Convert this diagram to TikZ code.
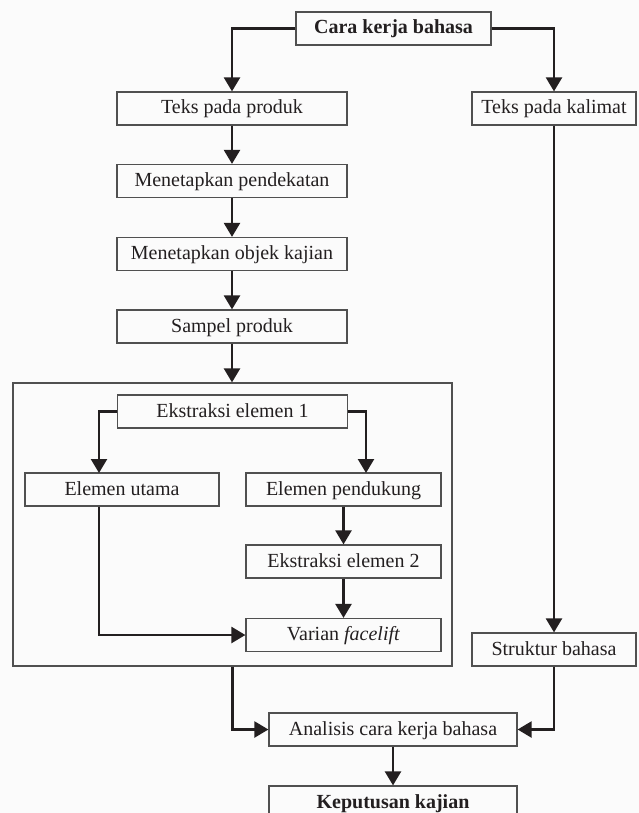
\documentclass[tikz,border=0pt]{standalone}
\usepackage{fontspec}
\setmainfont{Liberation Serif}
\usetikzlibrary{arrows.meta}
\definecolor{boxc}{HTML}{505050}
\definecolor{arrc}{HTML}{231F20}
\definecolor{bgc}{HTML}{FBFBFB}
\begin{document}
\begin{tikzpicture}[x=1pt,y=-1pt,
  box/.style={draw=boxc,line width=1.2pt,inner sep=0pt,minimum height=33pt,
    text height=15pt,text depth=4pt,font=\fontsize{20}{24}\selectfont,text=arrc},
  arr/.style={draw=arrc,line width=2.3pt,-{Triangle[width=16pt,length=14pt]}},
  ln/.style={draw=arrc,line width=2.3pt}]
\fill[bgc] (0,0) rectangle (639,813);
\useasboundingbox (0,0) rectangle (639,813);
\node[box,minimum width=195pt,font=\fontsize{20}{24}\selectfont\bfseries] (top) at (393.5,28.5) {Cara kerja bahasa};
\node[box,minimum width=230pt] (tp) at (232,108.5) {Teks pada produk};
\node[box,minimum width=164pt] (tk) at (554,108.5) {Teks pada kalimat};
\node[box,minimum width=230pt] (mp) at (232,181) {Menetapkan pendekatan};
\node[box,minimum width=230pt] (mo) at (232,254) {Menetapkan objek kajian};
\node[box,minimum width=230pt] (sp) at (232,326.5) {Sampel produk};
\node[draw=boxc,line width=1.2pt,inner sep=0pt,minimum width=439pt,minimum height=283pt] (frame) at (232.5,524.5) {};
\node[box,minimum width=230pt] (e1) at (232.5,411.5) {Ekstraksi elemen 1};
\node[box,minimum width=194pt] (eu) at (122,489.5) {Elemen utama};
\node[box,minimum width=195pt] (ep) at (343.5,489.5) {Elemen pendukung};
\node[box,minimum width=195pt] (e2) at (343.5,561.5) {Ekstraksi elemen 2};
\node[box,minimum width=195pt] (va) at (343.5,635) {Varian \textit{facelift}};
\node[box,minimum width=164pt] (sb) at (554,649.5) {Struktur bahasa};
\node[box,minimum width=248pt] (an) at (393,729.5) {Analisis cara kerja bahasa};
\node[box,minimum width=248pt,font=\fontsize{20}{24}\selectfont\bfseries] (kp) at (393,802.5) {Keputusan kajian};
\coordinate (cl) at (99,473);
\coordinate (cr) at (366,473);
\draw[arr] (top.west) -| (tp.north);
\draw[arr] (top.east) -| (tk.north);
\draw[arr] (tp) -- (mp);
\draw[arr] (mp) -- (mo);
\draw[arr] (mo) -- (sp);
\draw[arr] (sp.south) -- (sp.south |- frame.north);
\draw[arr] (e1.west) -| (cl);
\draw[arr] (e1.east) -| (cr);
\draw[arr] (cl |- eu.south) |- (va.west);
\draw[arr] (ep) -- (e2);
\draw[arr] (e2) -- (va);
\draw[arr] (tk) -- (sb);
\draw[arr] (frame.south) |- (an.west);
\draw[arr] (sb.south) |- (an.east);
\draw[arr] (an) -- (kp);
\end{tikzpicture}
\end{document}
